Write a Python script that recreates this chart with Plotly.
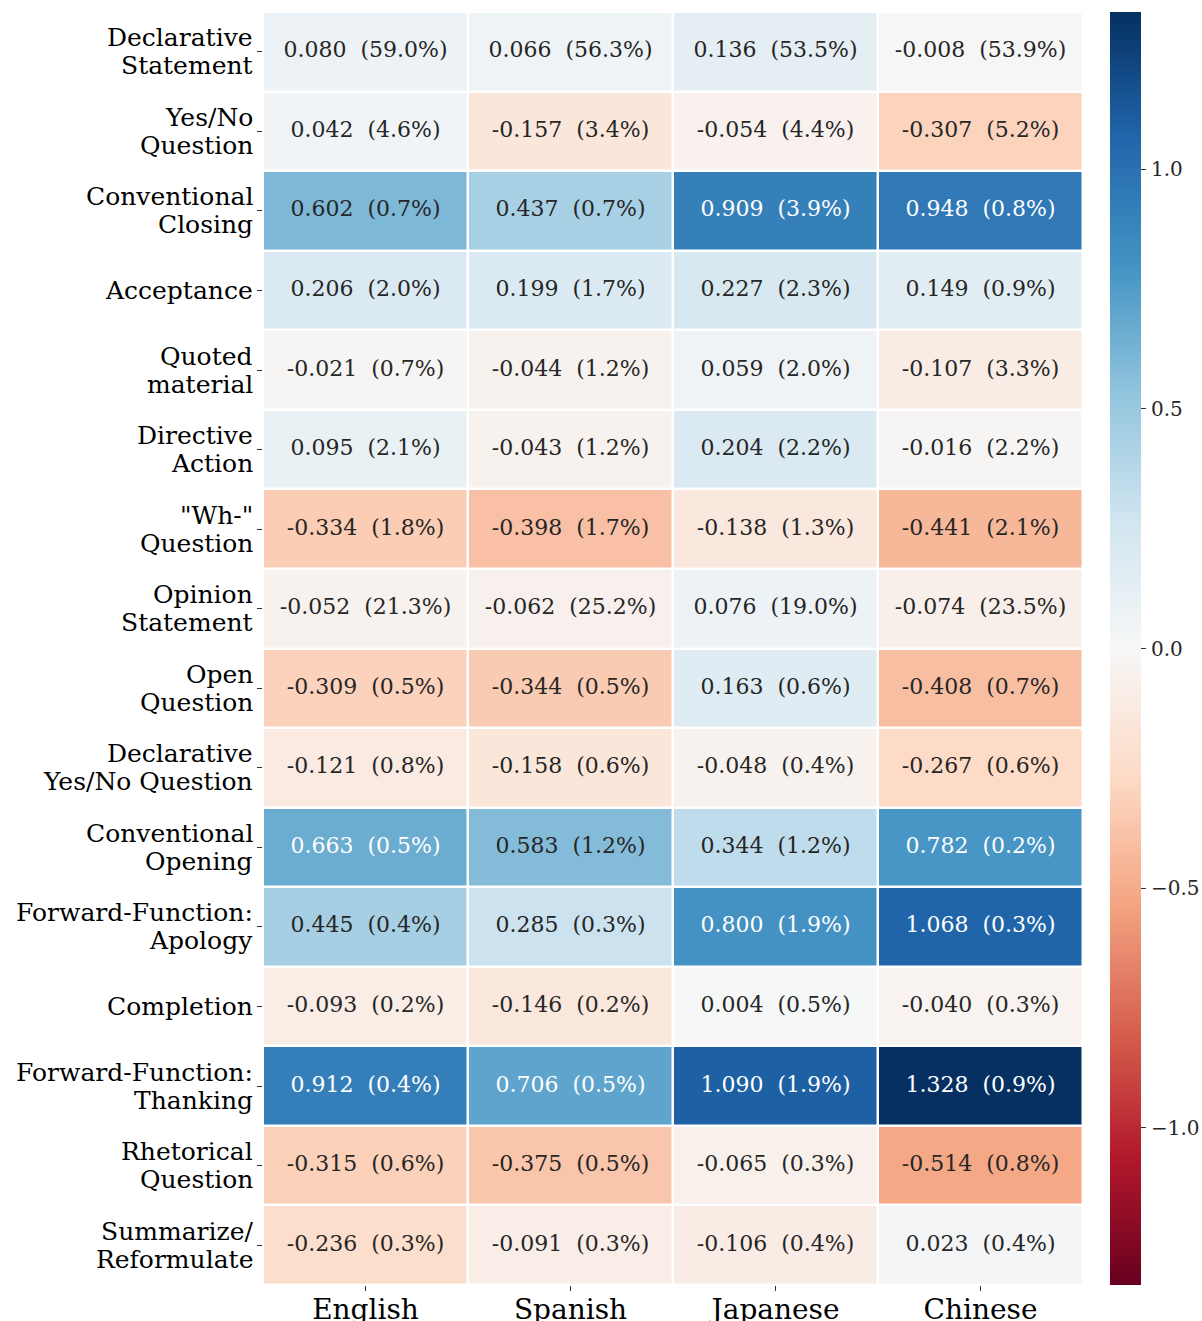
import plotly.graph_objects as go

languages = ["English", "Spanish", "Japanese", "Chinese"]
acts = [
    "Declarative<br>Statement",
    "Yes/No<br>Question",
    "Conventional<br>Closing",
    "Acceptance",
    "Quoted<br>material",
    "Directive<br>Action",
    "\"Wh-\"<br>Question",
    "Opinion<br>Statement",
    "Open<br>Question",
    "Declarative<br>Yes/No Question",
    "Conventional<br>Opening",
    "Forward-Function:<br>Apology",
    "Completion",
    "Forward-Function:<br>Thanking",
    "Rhetorical<br>Question",
    "Summarize/<br>Reformulate",
]

scores = [
    [0.080, 0.066, 0.136, -0.008],
    [0.042, -0.157, -0.054, -0.307],
    [0.602, 0.437, 0.909, 0.948],
    [0.206, 0.199, 0.227, 0.149],
    [-0.021, -0.044, 0.059, -0.107],
    [0.095, -0.043, 0.204, -0.016],
    [-0.334, -0.398, -0.138, -0.441],
    [-0.052, -0.062, 0.076, -0.074],
    [-0.309, -0.344, 0.163, -0.408],
    [-0.121, -0.158, -0.048, -0.267],
    [0.663, 0.583, 0.344, 0.782],
    [0.445, 0.285, 0.800, 1.068],
    [-0.093, -0.146, 0.004, -0.040],
    [0.912, 0.706, 1.090, 1.328],
    [-0.315, -0.375, -0.065, -0.514],
    [-0.236, -0.091, -0.106, 0.023],
]

shares = [
    [59.0, 56.3, 53.5, 53.9],
    [4.6, 3.4, 4.4, 5.2],
    [0.7, 0.7, 3.9, 0.8],
    [2.0, 1.7, 2.3, 0.9],
    [0.7, 1.2, 2.0, 3.3],
    [2.1, 1.2, 2.2, 2.2],
    [1.8, 1.7, 1.3, 2.1],
    [21.3, 25.2, 19.0, 23.5],
    [0.5, 0.5, 0.6, 0.7],
    [0.8, 0.6, 0.4, 0.6],
    [0.5, 1.2, 1.2, 0.2],
    [0.4, 0.3, 1.9, 0.3],
    [0.2, 0.2, 0.5, 0.3],
    [0.4, 0.5, 1.9, 0.9],
    [0.6, 0.5, 0.3, 0.8],
    [0.3, 0.3, 0.4, 0.4],
]

cbar_ticks = [-1.0, -0.5, 0.0, 0.5, 1.0]

RDBU = [
    (103, 0, 31), (178, 24, 43), (214, 96, 77), (244, 165, 130), (253, 219, 199),
    (247, 247, 247), (209, 229, 240), (146, 197, 222), (67, 147, 195), (33, 102, 172),
    (5, 48, 97),
]
colorscale = [[i / 10, "rgb(%d,%d,%d)" % c] for i, c in enumerate(RDBU)]

vmax = max(abs(v) for row in scores for v in row)
vmin = -vmax


def cmap(v):
    t = (v - vmin) / (vmax - vmin)
    t = min(max(t, 0.0), 1.0) * 10
    i = min(int(t), 9)
    f = t - i
    a, b = RDBU[i], RDBU[i + 1]
    return [(a[k] + (b[k] - a[k]) * f) / 255 for k in range(3)]


def lum(rgb):
    lin = [c / 12.92 if c <= 0.03928 else ((c + 0.055) / 1.055) ** 2.4 for c in rgb]
    return 0.2126 * lin[0] + 0.7152 * lin[1] + 0.0722 * lin[2]


FONT = "DejaVu Serif, serif"
W, H = 1202, 1321
L, R, T, B = 263, 119, 12, 36
CB_LEFT, CB_THICK = 1110, 31
plot_w = W - L - R

tx, ty, tt, tc = [], [], [], []
for r, act in enumerate(acts):
    for c, lang in enumerate(languages):
        v = scores[r][c]
        tx.append(lang)
        ty.append(act)
        tt.append("%.3f  (%.1f%%)" % (v, shares[r][c]))
        tc.append("#262626" if lum(cmap(v)) > 0.408 else "#ffffff")

fig = go.Figure()
fig.add_trace(go.Heatmap(
    z=scores, x=languages, y=acts,
    colorscale=colorscale, zmin=vmin, zmax=vmax,
    xgap=2.5, ygap=2.5, hoverinfo="skip",
    colorbar=dict(
        x=(CB_LEFT - L) / plot_w, xanchor="left", xref="paper",
        y=0, yanchor="bottom", len=1, lenmode="fraction",
        xpad=0, ypad=0,
        thickness=CB_THICK, outlinewidth=0,
        tickvals=cbar_ticks,
        ticks="outside", ticklen=5, tickcolor="#333",
        showticklabels=False,
    ),
))
fig.add_trace(go.Scatter(
    x=tx, y=ty, text=tt, mode="text",
    textfont=dict(family=FONT, size=22, color=tc),
    hoverinfo="skip", showlegend=False,
))
# hidden axis sharing the colour scale, used to place the colour-bar labels
fig.add_trace(go.Scatter(
    x=[None], y=[None], xaxis="x", yaxis="y2", mode="markers",
    hoverinfo="skip", showlegend=False,
))

annotations = []
for act in acts:
    lines = act.split("<br>")
    n = len(lines)
    for k, line in enumerate(lines):
        annotations.append(dict(
            x=0, xref="paper", y=act, yref="y",
            text=line, showarrow=False,
            xanchor="right", yanchor="middle",
            xshift=-8, yshift=(n - 1) * 14 - 28 * k,
            font=dict(family=FONT, size=25, color="#000"),
        ))
for t in cbar_ticks:
    annotations.append(dict(
        x=(CB_LEFT + CB_THICK - L) / plot_w, xref="paper", y=t, yref="y2",
        text=("%.1f" % t).replace("-", "\u2212"), showarrow=False,
        xanchor="left", yanchor="middle", xshift=8,
        font=dict(family=FONT, size=20, color="#262626"),
    ))

fig.update_layout(
    width=W, height=H,
    margin=dict(l=L, r=R, t=T, b=B),
    plot_bgcolor="white", paper_bgcolor="white",
    showlegend=False,
    font=dict(family=FONT, color="#000"),
    annotations=annotations,
    yaxis2=dict(overlaying="y", range=[vmin, vmax], visible=False,
                domain=[0, 1], fixedrange=True),
)
fig.update_xaxes(
    showgrid=False, zeroline=False, showline=False,
    ticks="outside", ticklen=5, tickcolor="#333",
    tickfont=dict(family=FONT, size=28, color="#000"),
    range=[-0.5, 3.5], automargin=False, ticklabelstandoff=-6,
)
fig.update_yaxes(
    showgrid=False, zeroline=False, showline=False,
    range=[len(acts) - 0.5, -0.5],
    ticks="outside", ticklen=5, tickcolor="#333",
    showticklabels=False, automargin=False,
    selector=dict(overlaying=None) if False else None,
)
fig.layout.yaxis2.update(range=[vmin, vmax])

fig.write_html("out.html")
